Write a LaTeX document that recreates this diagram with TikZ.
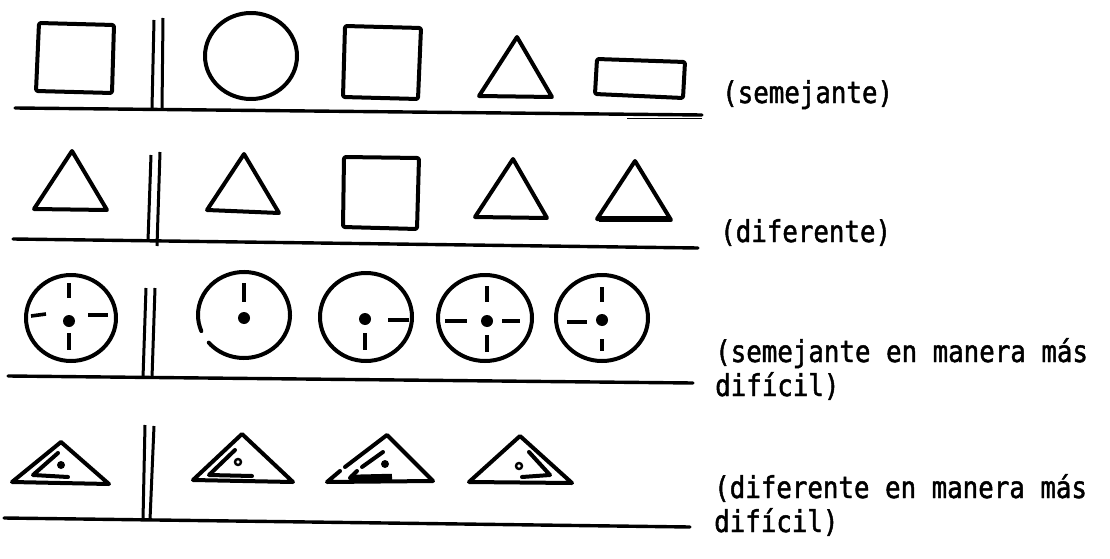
\documentclass[tikz,border=0pt]{standalone}
\usepackage{fontspec}
\newfontfamily\labfont[FakeStretch=0.86,FakeBold=1.5]{DejaVu Sans Mono}
\begin{document}
\begin{tikzpicture}[x=1pt,y=-1pt,
  shp/.style={line width=4pt, line join=round, line cap=round},
  base/.style={line width=3.4pt, line cap=round},
  bar/.style={line width=3pt},
  tick/.style={line width=3.6pt},
  dotf/.style={fill=black},
  lab/.style={anchor=base west, inner sep=0pt, font=\labfont\fontsize{30}{32}\selectfont}]
\useasboundingbox (0,0) rectangle (1110,559);

% ---------- Row 1 ----------
\draw[base] (15,108) -- (702,115);
\draw[line width=1.8pt] (627,118.5) -- (702,118.5);
\draw[bar] (154,20) -- (152,108);
\draw[bar] (163,18) -- (162,110);
\draw[shp, rounded corners=2pt] (39,23) -- (114,25) -- (112,93) -- (36,91) -- cycle;
\draw[shp] (251,56) ellipse [x radius=46, y radius=43];
\draw[shp, rounded corners=2pt] (345,26) -- (421,28) -- (418,99) -- (343,97) -- cycle;
\draw[shp] (517,37) -- (552,97) -- (479,96) -- cycle;
\draw[shp, rounded corners=2pt] (597,59) -- (685,62) -- (683,98) -- (595,94) -- cycle;
\node[lab] (l1) at (722,103) {(semejante)};

% ---------- Row 2 ----------
\draw[base] (13,239) -- (698,248);
\draw[bar] (151,155) -- (148,241);
\draw[bar] (160,152) -- (157,246);
\draw[shp] (72,151) -- (107,210) -- (34,209) -- cycle;
\draw[shp] (244,154) -- (279,213) -- (207,210) -- cycle;
\draw[shp, rounded corners=2pt] (344,157) -- (419,158) -- (417,229) -- (343,227) -- cycle;
\draw[shp] (513,159) -- (547,218) -- (475,217) -- cycle;
\draw[shp] (635,161) -- (671,220) -- (597,219) -- cycle;
\draw[line width=5.5pt] (599,219) -- (670,219);
\node[lab] (l2) at (720,242) {(diferente)};

% ---------- Row 3 ----------
\draw[base] (8,376) -- (693,383);
\draw[bar] (146,288) -- (143,378);
\draw[bar] (155,288) -- (152,378);
% circle 1
\draw[shp] (71,318) ellipse [x radius=45, y radius=43];
\fill[dotf] (69,321) circle (6);
\draw[tick] (69,283) -- (69,298);
\draw[tick] (69,333) -- (69,350);
\draw[tick] (31,316) -- (46,314);
\draw[tick] (88,315) -- (108,315);
% circle 2 (small gap upper left)
\draw[shp] (244,315) ++(158:46 and 43) arc [start angle=158, end angle=500, x radius=46, y radius=43];
\fill[dotf] (244,318) circle (6);
\draw[tick] (244,283) -- (244,302);
% circle 3
\draw[shp] (366,317) ellipse [x radius=46, y radius=44];
\fill[dotf] (365,319) circle (6);
\draw[tick] (365,333) -- (365,350);
\draw[tick] (388,320) -- (409,320);
% circle 4
\draw[shp] (485,318) ellipse [x radius=47, y radius=43];
\fill[dotf] (487,321) circle (6);
\draw[tick] (487,286) -- (487,302);
\draw[tick] (487,335) -- (487,352);
\draw[tick] (445,321) -- (467,321);
\draw[tick] (502,321) -- (520,321);
% circle 5
\draw[shp] (602,318) ellipse [x radius=46, y radius=43];
\fill[dotf] (602,320) circle (6);
\draw[tick] (602,287) -- (602,302);
\draw[tick] (602,339) -- (602,351);
\draw[tick] (567,322) -- (587,322);
\node[lab] (l3a) at (715,362) {(semejante en manera más};
\node[lab] (l3b) at (715,396) {difícil)};

% ---------- Row 4 ----------
\draw[base] (4,518) -- (690,527);
\draw[bar] (145,425) -- (143,520);
\draw[bar] (154,426) -- (150,520);
% triangle 1
\draw[shp] (61,442) -- (109,484) -- (12,482) -- cycle;
\draw[shp] (58,453) -- (33,475) -- (68,477);
\fill[dotf] (61,465) circle (4);
% triangle 2
\draw[shp] (242,434) -- (293,482) -- (193,480) -- cycle;
\draw[shp] (235,450) -- (209,475) -- (252,476);
\draw[line width=2.4pt] (238,462) circle (3);
% triangle 3
\draw[shp] (340,471) -- (327,482) -- (433,481) -- (387,435) -- (345,467);
\draw[shp] (383,452) -- (362,467);
\draw[shp] (357,471) -- (350,478);
\draw[line width=6.5pt] (350,478) -- (392,477);
\fill[dotf] (385,464) circle (4);
% triangle 4
\draw[shp] (520,436) -- (572,483) -- (469,482) -- cycle;
\draw[shp] (529,452) -- (550,475) -- (522,477);
\draw[line width=2.4pt] (519,466) circle (3);
\node[lab] (l4a) at (714,498) {(diferente en manera más};
\node[lab] (l4b) at (714,532) {difícil)};
\end{tikzpicture}
\end{document}
